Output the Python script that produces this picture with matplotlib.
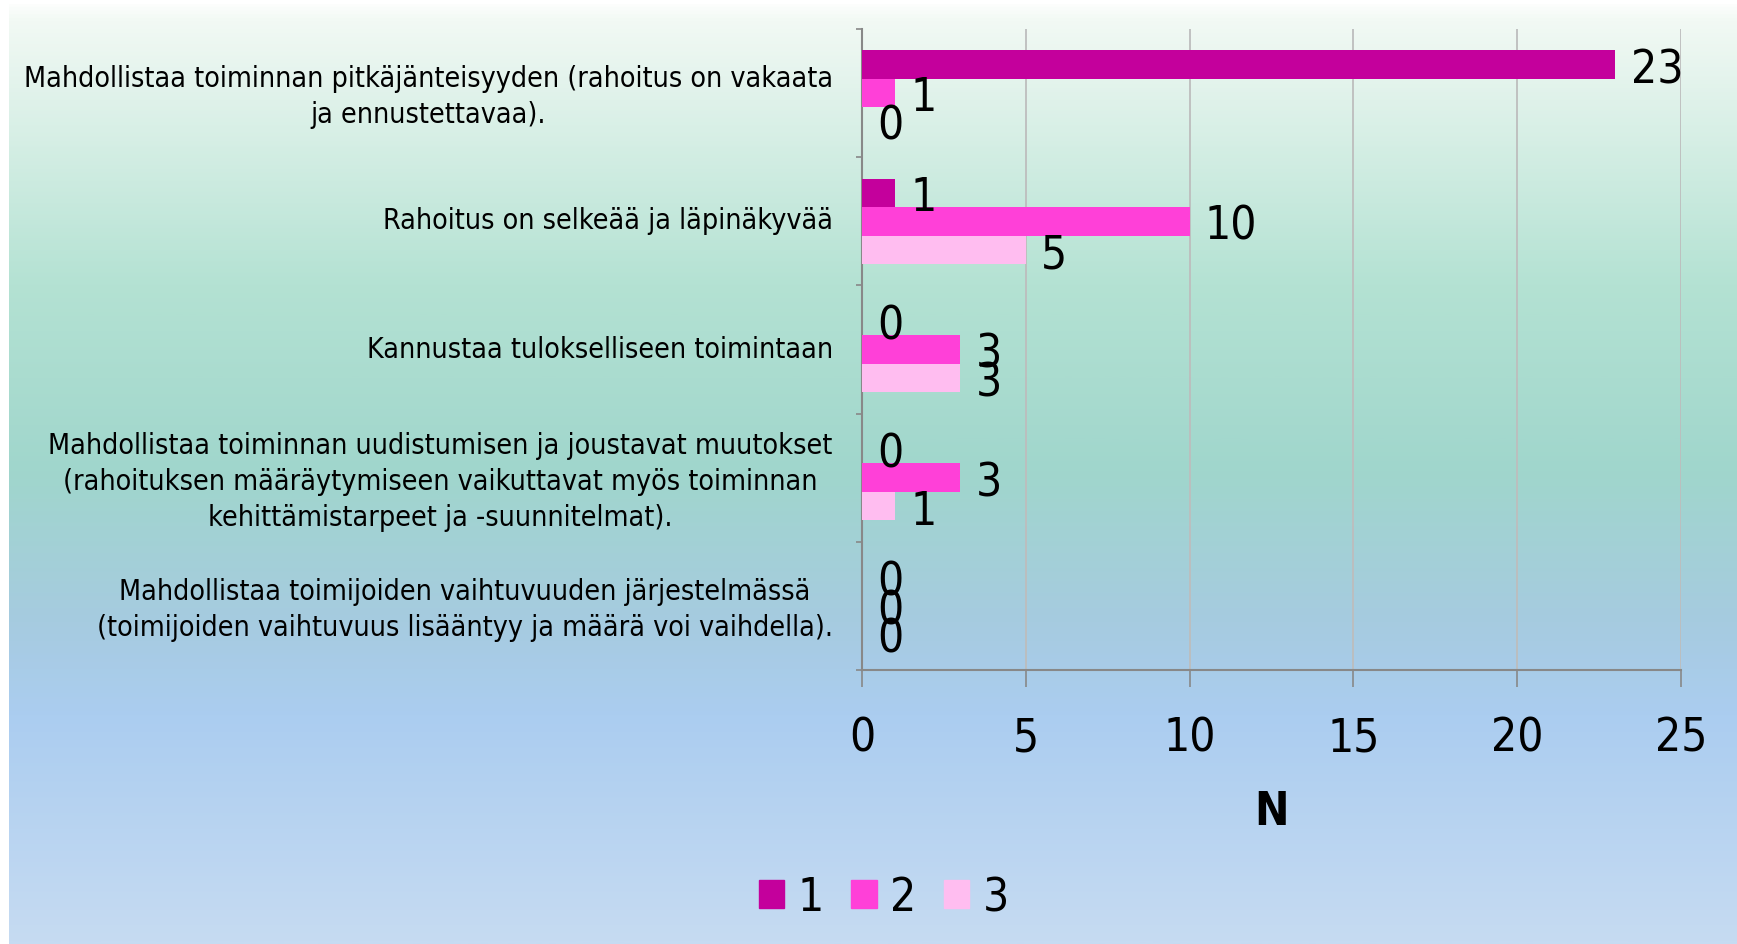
import matplotlib
matplotlib.use("Agg")
import matplotlib.pyplot as plt
import numpy as np
from matplotlib.colors import LinearSegmentedColormap
from matplotlib.patches import Patch
import matplotlib.transforms as mtransforms

plt.rcParams["font.family"] = "DejaVu Sans"
plt.rcParams["font.stretch"] = "condensed"

categories = [
    "Mahdollistaa toiminnan pitkäjänteisyyden (rahoitus on vakaata\nja ennustettavaa).",
    "Rahoitus on selkeää ja läpinäkyvää",
    "Kannustaa tulokselliseen toimintaan",
    "Mahdollistaa toiminnan uudistumisen ja joustavat muutokset\n(rahoituksen määräytymiseen vaikuttavat myös toiminnan\nkehittämistarpeet ja -suunnitelmat).",
    "Mahdollistaa toimijoiden vaihtuvuuden järjestelmässä\n(toimijoiden vaihtuvuus lisääntyy ja määrä voi vaihdella).",
]
series_names = ["1", "2", "3"]
s1 = [23, 1, 0, 0, 0]
s2 = [1, 10, 3, 3, 0]
s3 = [0, 5, 3, 1, 0]
xticks = [0, 5, 10, 15, 20, 25]
colors = ["#C4009C", "#FF40D8", "#FFBDF0"]

W, H = 1737, 945
fig = plt.figure(figsize=(W / 100, H / 100), dpi=100)

# background gradient (white strip on left/top like the source slide)
bg = fig.add_axes([0, 0, 1, 1], zorder=-10)
stops = [(0.0, "#ffffff"), (0.02, "#f2f9f4"), (0.30, "#b4e2d3"), (0.50, "#a0d6cc"),
         (0.66, "#a6cbe0"), (0.76, "#abcdf0"), (1.0, "#c6dbf2")]
cmap = LinearSegmentedColormap.from_list("bg", stops)
grad = np.linspace(0, 1, 500).reshape(-1, 1)
bg.imshow(grad, aspect="auto", cmap=cmap, extent=[0, W, H, 0])
bg.axvspan(0, 9, color="white", lw=0)
bg.axhspan(0, 5, color="white", lw=0)
bg.set_xlim(0, W); bg.set_ylim(H, 0); bg.axis("off")

ax = fig.add_axes([862 / W, 1 - 671 / H, (1681 - 862) / W, (671 - 30) / H])
ax.set_facecolor("none")

y = np.arange(len(categories))
bw = 0.222
for k, (vals, c) in enumerate(zip([s1, s2, s3], colors)):
    bars = ax.barh(y + (k - 1) * bw, vals, height=bw, color=c, linewidth=0,
                   label=series_names[k], zorder=3)
    for a in ax.bar_label(bars, padding=11, fontsize=33, zorder=5):
        a.xyann = (11, -3.5)  # labels sit slightly below bar centre in the source

ax.set_xlim(0, 25)
ax.set_ylim(len(categories) - 0.5, -0.5)
ax.set_xticks(xticks)
ax.tick_params(axis="x", length=12, width=1.2, color="#888888", labelsize=33, pad=21)
ax.set_yticks(np.arange(-0.5, len(categories)), [""] * (len(categories) + 1))
ax.tick_params(axis="y", which="major", length=4.5, width=1.2, color="#888888")
ax.set_yticks(y, categories, minor=True)
ax.tick_params(axis="y", which="minor", length=0, pad=21, labelsize=20.5)
shift_up = mtransforms.ScaledTranslation(0, 4 / 100, fig.dpi_scale_trans)
for t in ax.get_yticklabels(minor=True):
    t.set_multialignment("center")
    t.set_linespacing(1.38)
    t.set_transform(t.get_transform() + shift_up)
ax.grid(axis="x", color="#bdbdbd", lw=1.3, zorder=0)
for s in ("top", "right"):
    ax.spines[s].set_visible(False)
for s in ("left", "bottom"):
    ax.spines[s].set_color("#888888")
    ax.spines[s].set_linewidth(1.5)
ax.set_xlabel("N", fontsize=33, fontweight="bold", labelpad=20)

handles = [Patch(color=c) for c in colors]
fig.legend(handles, series_names, loc="center", bbox_to_anchor=(884 / W, 1 - 899 / H),
           ncol=3, frameon=False, fontsize=33, handlelength=0.55, handleheight=0.57,
           handletextpad=0.3, columnspacing=0.6)

fig.savefig("out.png", dpi=100)
